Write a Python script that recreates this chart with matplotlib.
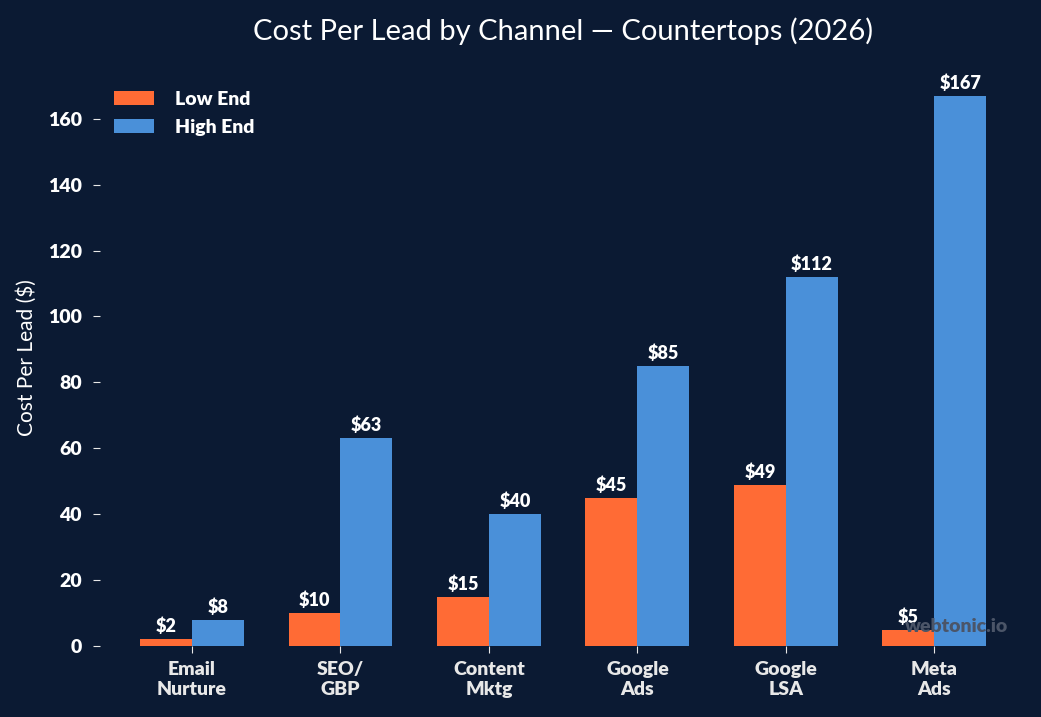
import numpy as np
import matplotlib.pyplot as plt

plt.rcParams['font.family'] = ['Lato', 'DejaVu Sans']

channels = ['Email\nNurture', 'SEO/\nGBP', 'Content\nMktg', 'Google\nAds', 'Google\nLSA', 'Meta\nAds']
low_end = [2, 10, 15, 45, 49, 5]
high_end = [8, 63, 40, 85, 112, 167]

bg = '#0b1a33'
orange = '#ff6b35'
blue = '#4a90d9'
fg = '#e8e8e8'
heavy = 'heavy'

fig = plt.figure(figsize=(10.41, 7.17), dpi=100, facecolor=bg)
ax = fig.add_axes([0.096, 0.099, 0.89, 0.806], facecolor=bg)

x = np.arange(len(channels))
w = 0.35
b1 = ax.bar(x - w / 2, low_end, w, color=orange, label='Low End')
b2 = ax.bar(x + w / 2, high_end, w, color=blue, label='High End')

for bars in (b1, b2):
    for r in bars:
        ax.text(r.get_x() + r.get_width() / 2, r.get_height() + 1.2, f'${r.get_height():.0f}',
                ha='center', va='bottom', color='white', fontsize=13, fontweight=heavy)

ax.set_xticks(x)
ax.set_xticklabels(channels, color='white', fontsize=14, fontweight=heavy, linespacing=1.2)
ax.tick_params(axis='y', colors=fg, labelsize=14, length=5, pad=8)
ax.tick_params(axis='x', colors=fg, length=5, pad=6)
for lab in ax.get_yticklabels():
    lab.set_fontweight(heavy)
    lab.set_color('white')
for s in ax.spines.values():
    s.set_visible(False)

ax.set_xlim(-0.62, 5.62)
ax.set_ylim(0, 175.35)
ax.set_ylabel('Cost Per Lead ($)', color='white', fontsize=15, labelpad=8)
ax.set_title('Cost Per Lead by Channel — Countertops (2026)', color='white', fontsize=21, pad=20)

leg = ax.legend(loc='upper left', bbox_to_anchor=(0.0, 0.984), frameon=False, fontsize=14,
                handlelength=2.1, handleheight=0.75, borderaxespad=0.3, labelspacing=0.55,
                handletextpad=1.05)
for t in leg.get_texts():
    t.set_color('white')
    t.set_fontweight(heavy)

ax.text(0.98, 0.034, 'webtonic.io', transform=ax.transAxes, ha='right', va='center',
        color='#4b5568', fontsize=14, fontweight=heavy)

fig.savefig('out.png', dpi=100, facecolor=bg)
